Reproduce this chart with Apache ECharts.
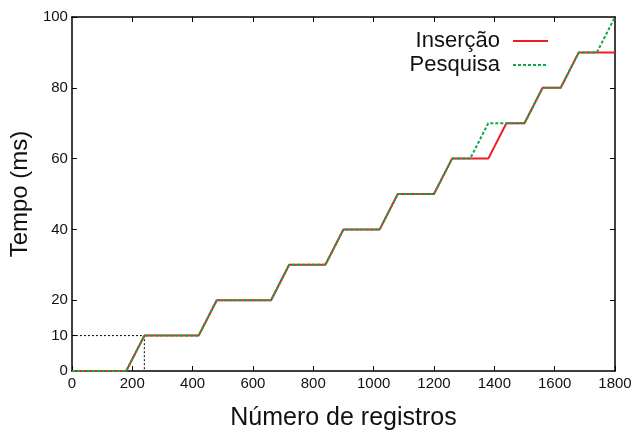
<!DOCTYPE html>
<html>
<head>
<meta charset="utf-8">
<script src="https://cdn.jsdelivr.net/npm/echarts@6/dist/echarts.min.js"></script>
<style>html,body{margin:0;padding:0;background:#fff}#c{width:640px;height:436px}</style>
</head>
<body>
<div id="c"></div>
<script>
var registros = [0,60,120,180,240,300,360,420,480,540,600,660,720,780,840,900,960,1020,1080,1140,1200,1260,1320,1380,1440,1500,1560,1620,1680,1740,1800];
var insercao  = [0,0,0,0,10,10,10,10,20,20,20,20,30,30,30,40,40,40,50,50,50,60,60,60,70,70,80,80,90,90,90];
var pesquisa  = [0,0,0,0,10,10,10,10,20,20,20,20,30,30,30,40,40,40,50,50,50,60,60,70,70,70,80,80,90,90,100];
var guideX = [0,240,240];
var guideY = [10,10,0];
var xTicks = [0,200,400,600,800,1000,1200,1400,1600,1800];
var yTicks = [0,10,20,40,60,80,100];
var yTicksRight = [20,40,60,80];

function pairs(xs, ys){ return xs.map(function(x,i){return [x, ys[i]];}); }
function plain(v){ return String(v); }

var chart = echarts.init(document.getElementById('c'), null, {renderer:'canvas'});
var font = 'Liberation Sans, Arial, sans-serif';
chart.setOption({
  animation:false,
  backgroundColor:'#fff',
  grid:{left:67,right:25,top:17,bottom:52,containLabel:false},
  legend:{
    orient:'vertical', right:86, top:25, align:'right',
    itemWidth:35, itemHeight:12, itemGap:2,
    itemStyle:{opacity:0},
    textStyle:{fontFamily:font,fontSize:22,lineHeight:22,color:'#111',padding:[0,8,0,0]},
    data:['Inserção','Pesquisa'],
    selectedMode:false
  },
  xAxis:[{
    type:'value', min:0, max:1800, interval:200,
    name:'Número de registros', nameLocation:'middle', nameGap:35,
    nameTextStyle:{fontFamily:font,fontSize:25,color:'#111'},
    axisLine:{show:true,onZero:false,lineStyle:{color:'#000',width:1.5}},
    axisTick:{show:true,inside:true,length:5,lineStyle:{color:'#000'},customValues:xTicks},
    axisLabel:{fontFamily:font,fontSize:15,color:'#111',margin:5,customValues:xTicks,formatter:plain},
    splitLine:{show:false}
  },{
    type:'value', min:0, max:1800, interval:200, position:'top',
    axisLine:{show:true,onZero:false,lineStyle:{color:'#000',width:1.5}},
    axisTick:{show:true,inside:true,length:5,lineStyle:{color:'#000'},customValues:xTicks.slice(1,-1)},
    axisLabel:{show:false},
    splitLine:{show:false}
  }],
  yAxis:[{
    type:'value', min:0, max:100, interval:10,
    name:'Tempo (ms)', nameLocation:'middle', nameGap:31, nameRotate:90,
    nameTextStyle:{fontFamily:font,fontSize:24,color:'#111'},
    axisLine:{show:true,onZero:false,lineStyle:{color:'#000',width:1.5}},
    axisTick:{show:true,inside:true,length:5,lineStyle:{color:'#000'},customValues:yTicks},
    axisLabel:{fontFamily:font,fontSize:15,color:'#111',margin:4,customValues:yTicks,formatter:plain},
    splitLine:{show:false}
  },{
    type:'value', min:0, max:100, interval:10, position:'right',
    axisLine:{show:true,onZero:false,lineStyle:{color:'#000',width:1.5}},
    axisTick:{show:true,inside:true,length:5,lineStyle:{color:'#000'},customValues:yTicksRight},
    axisLabel:{show:false},
    splitLine:{show:false}
  }],
  series:[{
    name:'guide', type:'line', data:pairs(guideX,guideY), symbol:'none', silent:true,
    lineStyle:{color:'#000',width:1,type:[2,2]}, z:1
  },{
    name:'Inserção', type:'line', data:pairs(registros,insercao), symbol:'none',
    color:'#ee1c25', lineStyle:{color:'#ee1c25',width:2}, z:2
  },{
    name:'Pesquisa', type:'line', data:pairs(registros,pesquisa), symbol:'none',
    color:'#0fa84a', lineStyle:{color:'#0fa84a',width:2,type:[3,2]}, z:3
  }]
});
</script>
</body>
</html>
